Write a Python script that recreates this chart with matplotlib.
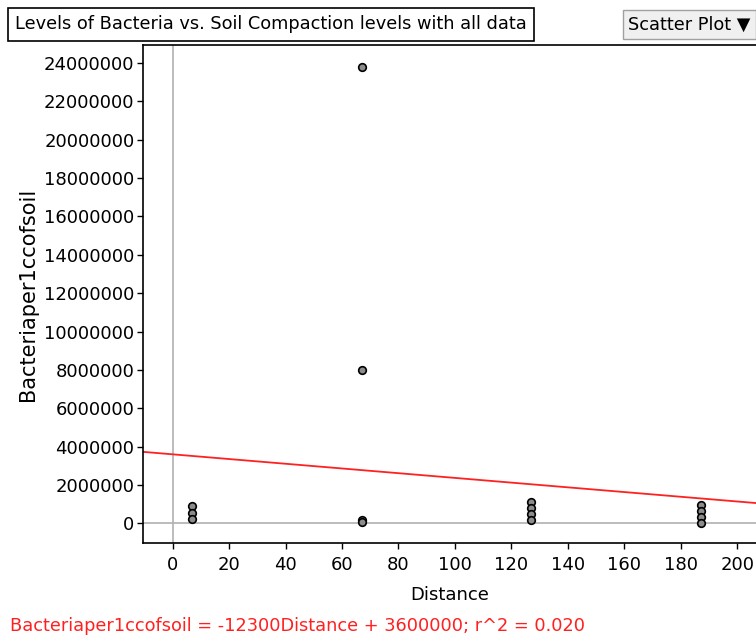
import numpy as np
import matplotlib
matplotlib.use("Agg")
import matplotlib.pyplot as plt
from matplotlib.ticker import FuncFormatter

# data
distance = [7, 7, 7, 67, 67, 67, 67, 127, 127, 127, 127, 187, 187, 187, 187]
bacteria = [900000, 550000, 250000,
            23800000, 8000000, 200000, 50000,
            1100000, 800000, 500000, 200000,
            950000, 650000, 350000, 0]
slope = -12300
intercept = 3600000
x_ticks = list(range(0, 201, 20))
y_ticks = list(range(0, 24000001, 2000000))

plt.rcParams['font.family'] = ['DejaVu Sans']

fig = plt.figure(figsize=(7.56, 6.41), dpi=100)
ax = fig.add_axes([0.189, 0.1524, 0.811, 0.7774])

ax.set_xlim(-10.5, 206.6)
ax.set_ylim(-1040000, 24940000)

ax.axvline(0, color='#b0b0b0', lw=1.2, zorder=1)
ax.axhline(0, color='#b0b0b0', lw=1.2, zorder=1)

xs = np.array(ax.get_xlim())
ax.plot(xs, slope * xs + intercept, color='#ff2020', lw=1.3, zorder=2)

ax.scatter(distance, bacteria, s=30, facecolor='#8c8c8c', edgecolor='black',
           linewidth=1.2, zorder=3)

ax.set_xticks(x_ticks)
ax.set_yticks(y_ticks)
ax.yaxis.set_major_formatter(FuncFormatter(lambda v, p: '%d' % v))
ax.tick_params(labelsize=13, length=4, width=1, pad=2, colors='black')
ax.tick_params(axis='x', pad=5)
ax.spines['right'].set_visible(False)
for s in ['left', 'bottom', 'top']:
    ax.spines[s].set_linewidth(1.2)

ax.set_xlabel('Distance', fontsize=13, labelpad=9)
ax.set_ylabel('Bacteriaper1ccofsoil', fontsize=15, labelpad=4)

fig.text(0.020, 0.962, 'Levels of Bacteria vs. Soil Compaction levels with all data',
         fontsize=12.8, va='center', ha='left',
         bbox=dict(boxstyle='square,pad=0.42', facecolor='white', edgecolor='black', lw=1.2))
fig.text(0.831, 0.962, 'Scatter Plot \u25bc', fontsize=12.8, va='center', ha='left',
         bbox=dict(boxstyle='square,pad=0.3', facecolor='#f0f0f0', edgecolor='#a0a0a0', lw=1))

fig.text(0.013, 0.023, 'Bacteriaper1ccofsoil = -12300Distance + 3600000; r^2 = 0.020',
         fontsize=12.8, color='#ff2020', ha='left', va='center')

fig.savefig('out.png', dpi=100)
